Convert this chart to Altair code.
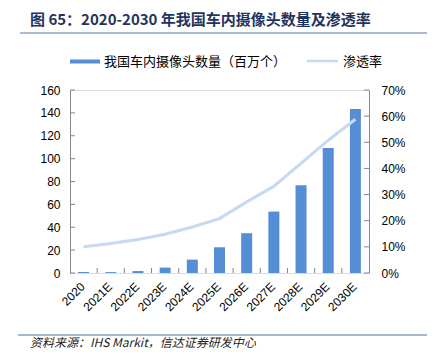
import altair as alt
import pandas as pd

# ---- data ----
years = ["2020", "2021E", "2022E", "2023E", "2024E", "2025E",
         "2026E", "2027E", "2028E", "2029E", "2030E"]
cameras = [0.9, 0.8, 1.7, 4.7, 11.7, 22.5, 34.8, 53.7, 76.8, 109.2, 143.3]
penetration = [0.100, 0.113, 0.128, 0.148, 0.176, 0.208, 0.272, 0.332, 0.419, 0.508, 0.588]
left_ticks = [0, 20, 40, 60, 80, 100, 120, 140, 160]
right_ticks = [0.0, 0.1, 0.2, 0.3, 0.4, 0.5, 0.6, 0.7]

title_text = "图 65：2020-2030 年我国车内摄像头数量及渗透率"
legend_bar = "我国车内摄像头数量（百万个）"
legend_line = "渗透率"
source_text = "资料来源：IHS Markit，信达证券研发中心"

W, H = 299, 183
BAR = "#558ED5"
LINE = "#C5D9F1"
AX = "#868686"
FONT = "Liberation Sans"
CJK = "Noto Sans CJK SC"

df = pd.DataFrame({"year": years, "cameras": cameras, "pen": penetration})
lt = pd.DataFrame({"v": left_ticks})
rt = pd.DataFrame({"v": right_ticks})
xt = pd.DataFrame({"year": years[1:]})
one = pd.DataFrame({"a": [0]})

xscale = alt.Scale(domain=years, paddingInner=0, paddingOuter=0)
lscale = alt.Scale(domain=[0, 160], nice=False)
rscale = alt.Scale(domain=[0, 0.7], nice=False)

bars = alt.Chart(df).mark_bar(size=11, color=BAR).encode(
    x=alt.X("year:N", scale=xscale, sort=None, title=None,
            axis=alt.Axis(labels=False, ticks=False, domainColor=AX)),
    y=alt.Y("cameras:Q", scale=lscale, title=None,
            axis=alt.Axis(values=left_ticks, ticks=False, grid=False, domainColor=AX,
                          labelPadding=10, labelFont=FONT, labelFontSize=12,
                          labelColor="#000000", orient="left")),
)

xlabels = alt.Chart(df).mark_text(angle=315, align="right", baseline="middle",
                                  font=FONT, fontSize=12, color="#000000", dx=-1).encode(
    x=alt.X("year:N", scale=xscale, sort=None, axis=None),
    y=alt.value(H + 11),
    text="year:N",
)

line = alt.Chart(df).mark_line(color=LINE, strokeWidth=3).encode(
    x=alt.X("year:N", scale=xscale, sort=None, axis=None),
    y=alt.Y("pen:Q", scale=rscale, title=None,
            axis=alt.Axis(values=right_ticks, format=".0%", ticks=False, grid=False,
                          domainColor=AX, labelPadding=12, labelFont=FONT,
                          labelFontSize=12, labelColor="#000000", orient="right")),
)

lticks = alt.Chart(lt).mark_rule(color=AX).encode(
    y=alt.Y("v:Q", scale=lscale, axis=None),
    x=alt.value(0), x2=alt.value(5),
)
rticks = alt.Chart(rt).mark_rule(color=AX).encode(
    y=alt.Y("v:Q", scale=rscale, axis=None),
    x=alt.value(W - 5), x2=alt.value(W),
)
xticks = alt.Chart(xt).mark_rule(color=AX).encode(
    x=alt.X("year:N", scale=xscale, sort=None, axis=None, bandPosition=0),
    y=alt.value(H), y2=alt.value(H - 5),
)

base = alt.Chart(one)
title = base.mark_text(text=title_text, font=CJK, fontSize=15, fontWeight="bold",
                       color="#1F3560", align="left", baseline="middle").encode(
    x=alt.value(-40), y=alt.value(-70))
top_rule = base.mark_rule(color="#8FA2C4", strokeWidth=1.5).encode(
    x=alt.value(-50), x2=alt.value(357), y=alt.value(-57))
leg_bar = base.mark_rule(color=BAR, strokeWidth=4).encode(
    x=alt.value(0), x2=alt.value(30), y=alt.value(-28.5))
leg_bar_t = base.mark_text(text=legend_bar, font=CJK, fontSize=13, color="#000000",
                           align="left", baseline="middle").encode(
    x=alt.value(34), y=alt.value(-28.5))
leg_line = base.mark_rule(color=LINE, strokeWidth=2.5).encode(
    x=alt.value(237), x2=alt.value(268), y=alt.value(-29))
leg_line_t = base.mark_text(text=legend_line, font=CJK, fontSize=13, color="#000000",
                            align="left", baseline="middle").encode(
    x=alt.value(273), y=alt.value(-28.5))
bot_rule = base.mark_rule(color="#4A6FA5", strokeWidth=1.2).encode(
    x=alt.value(-52), x2=alt.value(357), y=alt.value(245))
source = base.mark_text(text=source_text, font=CJK, fontSize=12, fontStyle="italic",
                        color="#222222", align="left", baseline="middle").encode(
    x=alt.value(-40), y=alt.value(253))

chart = alt.layer(
    bars, lticks, xticks, xlabels, line, rticks,
    title, top_rule, leg_bar, leg_bar_t, leg_line, leg_line_t, bot_rule, source,
).resolve_scale(y="independent").properties(
    width=W, height=H,
    autosize=alt.AutoSizeParams(type="none"),
    padding={"left": 62, "top": 82, "right": 58, "bottom": 77},
).configure_view(strokeWidth=0).configure(background="white")

chart.save("out.html", embed_options={"renderer": "svg", "actions": False})
